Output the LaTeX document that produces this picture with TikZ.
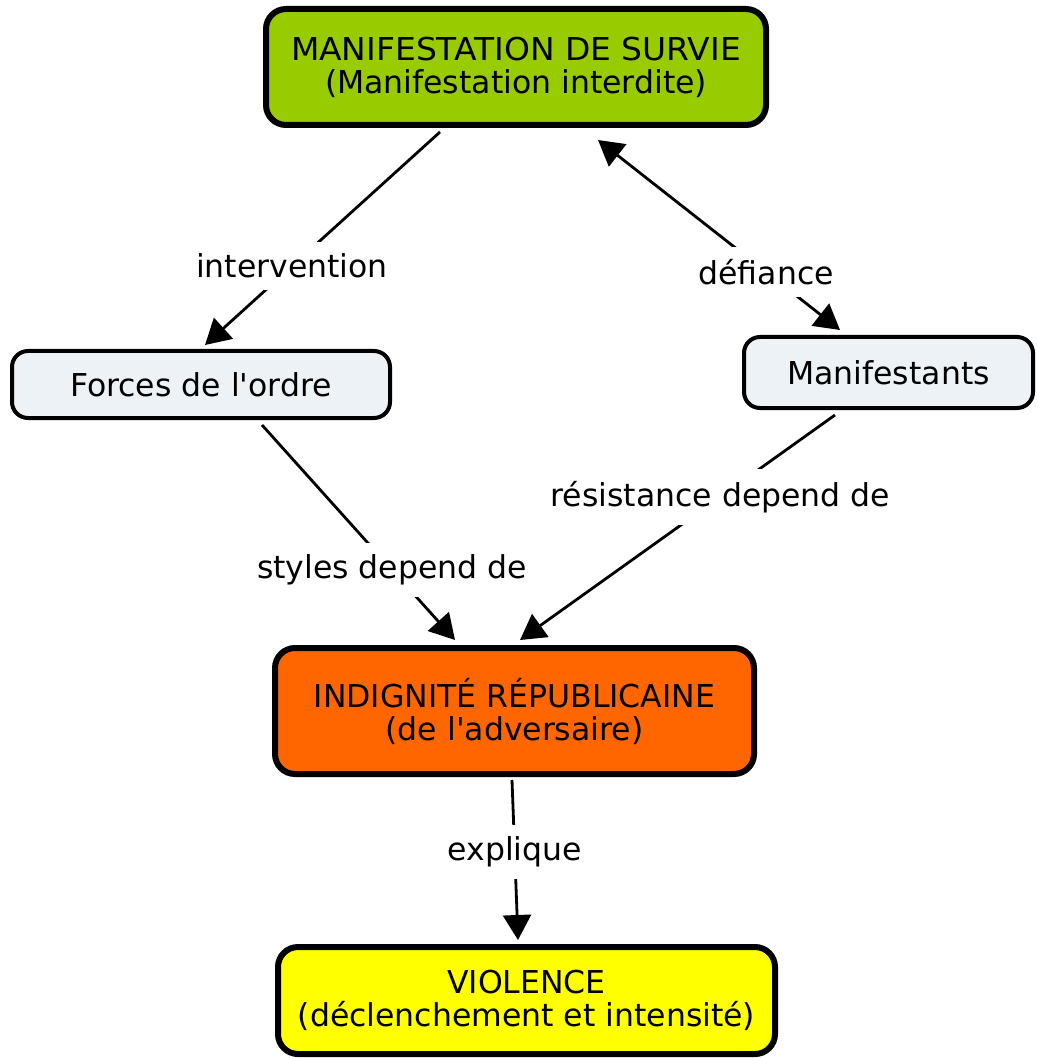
\documentclass[tikz,border=0pt]{standalone}
\usepackage{fontspec}
\setmainfont{DejaVu Sans}
\usetikzlibrary{arrows.meta}
\definecolor{vertsurvie}{RGB}{153,204,0}
\definecolor{grisacteur}{RGB}{237,242,246}
\definecolor{orangeindigne}{RGB}{255,102,0}
\definecolor{jauneviolence}{RGB}{255,255,0}
\tikzset{
  txt/.style={font=\fontsize{15.75}{16.5}\selectfont},
  concept/.style={txt,draw,line width=3pt,rounded corners=10pt,align=center,inner sep=0pt},
  acteur/.style={txt,draw,line width=2pt,rounded corners=8pt,fill=grisacteur,inner sep=0pt},
  lien/.style={line width=1.4pt,->},
  mot/.style={txt,fill=white,inner xsep=2pt,inner ysep=6pt}
}
\begin{document}
\begin{tikzpicture}[x=0.5pt,y=-0.5pt,>={Triangle[length=12.5pt,width=14pt]}]
\useasboundingbox (0,0) rectangle (1037,1058);
%concepts
\node[concept,fill=vertsurvie,minimum width=250pt,minimum height=58pt] (survie) at (516,67) {{\addfontfeature{FakeStretch=1.045}MANIFESTATION DE SURVIE}\\(Manifestation interdite)};
\node[acteur,minimum width=189pt,minimum height=33.5pt] (forces) at (201,384.5) {Forces de l\textquotesingle ordre};
\node[acteur,minimum width=144.5pt,minimum height=35.5pt] (manif) at (888.5,372.5) {Manifestants};
\node[concept,fill=orangeindigne,minimum width=239.5pt,minimum height=63pt] (indignite) at (514.5,711) {INDIGNITÉ RÉPUBLICAINE\\(de l\textquotesingle adversaire)};
\node[concept,fill=jauneviolence,minimum width=248.5pt,minimum height=53.5pt] (violence) at (526.5,1000.5) {VIOLENCE\\(déclenchement et intensité)};
%links
\draw[lien] ([shift={(-76,4)}]survie.south) -- node[mot,pos=0.63]{intervention} ([shift={(4,-4)}]forces.north);
\draw[lien,<->] ([shift={(82,12)}]survie.south) -- node[mot,pos=0.695]{défiance} ([shift={(-48.5,-5)}]manif.north);
\draw[lien] ([shift={(61,5)}]forces.south) -- node[mot,pos=0.674]{styles depend de} ([shift={(-59.5,-5)}]indignite.north);
\draw[lien] ([shift={(-53.5,5)}]manif.south) -- node[mot,pos=0.364]{résistance depend de} ([shift={(5.5,-5)}]indignite.north);
\draw[lien] ([shift={(-2.5,3)}]indignite.south) -- node[mot,pos=0.45]{explique} ([shift={(-8.5,-4)}]violence.north);
\end{tikzpicture}
\end{document}
